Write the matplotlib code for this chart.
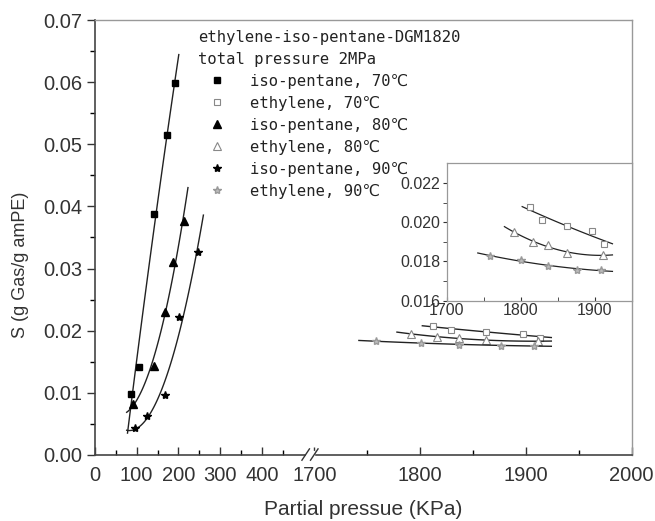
import numpy as np
import matplotlib
matplotlib.use("Agg")
import matplotlib.pyplot as plt
from matplotlib.ticker import FixedLocator, NullFormatter

plt.rcParams['font.family'] = ['Liberation Sans', 'DejaVu Sans']

# iso-pentane points (left part of the broken axis)
iso70_x = [86, 105, 142, 173, 192]
iso70_y = [0.0098, 0.0142, 0.0388, 0.0515, 0.0599]
iso80_x = [90, 142, 168, 188, 213]
iso80_y = [0.0082, 0.0144, 0.0230, 0.0310, 0.0377]
iso90_x = [96, 125, 168, 202, 246]
iso90_y = [0.0043, 0.0063, 0.0096, 0.0222, 0.0326]

# ethylene points (right part of the broken axis)
eth70_x = [1812, 1829, 1862, 1897, 1913]
eth70_y = [0.02077, 0.02013, 0.01979, 0.01955, 0.01888]
eth80_x = [1791, 1816, 1837, 1862, 1911]
eth80_y = [0.01950, 0.01900, 0.01883, 0.01844, 0.01832]
eth90_x = [1758, 1801, 1837, 1876, 1908]
eth90_y = [0.01828, 0.01807, 0.01778, 0.01759, 0.01756]

# x span of each fitted curve
fit_span = {
    'iso70': (78, 201), 'iso80': (76, 223), 'iso90': (76, 260),
    'eth70': (1802, 1924), 'eth80': (1778, 1924), 'eth90': (1742, 1924),
}

labels = ['iso-pentane, 70\u2103', 'ethylene, 70\u2103', 'iso-pentane, 80\u2103',
          'ethylene, 80\u2103', 'iso-pentane, 90\u2103', 'ethylene, 90\u2103']

xticks_major = [0, 100, 200, 300, 400, 1700, 1800, 1900, 2000]
xticks_minor = [50, 150, 250, 350, 450, 1750, 1850, 1950]

# broken x axis: 0-500 and 1700-2000 on one axes
brk_x = [-1000, 0, 500, 1700, 2000, 3000]
brk_u = [-417, 0, 208.5, 219.5, 536.7, 1594]


def fwd(x):
    return np.interp(x, brk_x, brk_u)


def inv(u):
    return np.interp(u, brk_u, brk_x)


def fit_curve(x, y, key):
    c = np.polyfit(x, y, 2)
    xs = np.linspace(fit_span[key][0], fit_span[key][1], 100)
    return xs, np.polyval(c, xs)


fig = plt.figure(figsize=(6.55, 5.21), dpi=100)
ax = fig.add_axes([0.1450, 0.1267, 0.8194, 0.8349])
ax.set_xscale('function', functions=(fwd, inv))
ax.set_xlim(0, 2000)
ax.set_ylim(0, 0.07)

series = [
    ('iso70', iso70_x, iso70_y, dict(marker='s', color='k', mfc='k', ms=4.5)),
    ('eth70', eth70_x, eth70_y, dict(marker='s', color='#888888', mfc='white', ms=4.5, mew=0.8)),
    ('iso80', iso80_x, iso80_y, dict(marker='^', color='k', mfc='k', ms=5.5)),
    ('eth80', eth80_x, eth80_y, dict(marker='^', color='#888888', mfc='white', ms=5.5, mew=0.8)),
    ('iso90', iso90_x, iso90_y, dict(marker='*', color='k', mfc='k', ms=6)),
    ('eth90', eth90_x, eth90_y, dict(marker='*', color='#999999', mfc='#bbbbbb', ms=6)),
]


def draw(a, lw=1.0):
    hs = []
    for (key, x, y, st), lab in zip(series, labels):
        xs, ys = fit_curve(x, y, key)
        a.plot(xs, ys, color='#222222', lw=lw)
        h, = a.plot(x, y, ls='none', label=lab, **st)
        hs.append(h)
    return hs


handles = draw(ax)

ax.xaxis.set_major_locator(FixedLocator(xticks_major))
ax.xaxis.set_minor_locator(FixedLocator(xticks_minor))
ax.set_xticklabels([str(t) for t in xticks_major])
ax.xaxis.set_minor_formatter(NullFormatter())
ax.set_yticks(np.arange(0, 0.0701, 0.01))
ax.set_yticks(np.arange(0.005, 0.07, 0.01), minor=True)
ax.set_yticklabels(['%.2f' % v for v in np.arange(0, 0.0701, 0.01)])

ax.tick_params(axis='x', which='major', direction='in', length=6, width=1, pad=8,
               labelsize=14.5, colors='#333333', top=False)
ax.tick_params(axis='x', which='minor', direction='in', length=3.5, width=1, top=False)
ax.tick_params(axis='y', which='major', direction='out', length=6, width=1, pad=3,
               labelsize=14.5, colors='#333333', right=False)
ax.tick_params(axis='y', which='minor', direction='out', length=3.5, width=1, right=False)

for s in ['left', 'bottom']:
    ax.spines[s].set_color('#444444')
    ax.spines[s].set_linewidth(1.2)
for s in ['top', 'right']:
    ax.spines[s].set_color('#999999')
    ax.spines[s].set_linewidth(1.0)

ax.set_xlabel('Partial pressue (KPa)', fontsize=15, color='#333333')
ax.xaxis.set_label_coords(0.5, -0.103)
ax.set_ylabel('S (g Gas/g amPE)', fontsize=13, color='#333333')
ax.yaxis.set_label_coords(-0.122, 0.437)

# break marks on the x axis
bx = 215 / 536.7
ax.add_patch(plt.Rectangle((bx - 0.008, -0.01), 0.016, 0.02, transform=ax.transAxes,
                           color='white', clip_on=False, zorder=5))
for dx in (-0.008, 0.008):
    ax.plot([bx + dx - 0.007, bx + dx + 0.007], [-0.012, 0.014], transform=ax.transAxes,
            color='#333333', lw=1.0, clip_on=False, zorder=6)

leg = ax.legend(handles=handles, loc='upper left', bbox_to_anchor=(0.192, 0.978),
                title='ethylene-iso-pentane-DGM1820\ntotal pressure 2MPa',
                prop={'family': ['DejaVu Sans Mono', 'DejaVu Sans'], 'size': 11.2},
                title_fontproperties={'family': ['DejaVu Sans Mono', 'DejaVu Sans'], 'size': 11.2},
                alignment='left', frameon=False, handlelength=2.44, handletextpad=0.9,
                labelspacing=0.45, borderpad=0, borderaxespad=0, numpoints=1)
for t in leg.get_texts():
    t.set_color('#222222')
leg.get_title().set_color('#222222')
leg.get_title().set_linespacing(1.6)

# inset zoom of the ethylene data
ins = fig.add_axes([0.6820, 0.4228, 0.2824, 0.2637])
draw(ins, lw=0.9)
ins.set_xlim(1700, 1950)
ins.set_ylim(0.016, 0.023)
ins.set_xticks([1700, 1800, 1900])
ins.set_xticks([1750, 1850], minor=True)
ins.set_yticks([0.016, 0.018, 0.020, 0.022])
ins.set_yticks([0.017, 0.019, 0.021], minor=True)
ins.set_yticklabels(['0.016', '0.018', '0.020', '0.022'])
ins.tick_params(axis='x', which='both', direction='in', length=3, pad=2,
                labelsize=11.5, colors='#333333', top=False)
ins.tick_params(axis='y', which='both', direction='out', length=3, pad=1.5,
                labelsize=11.5, colors='#333333', right=False)
for s in ins.spines.values():
    s.set_color('#999999')
    s.set_linewidth(0.9)

fig.savefig('out.png', dpi=100)
